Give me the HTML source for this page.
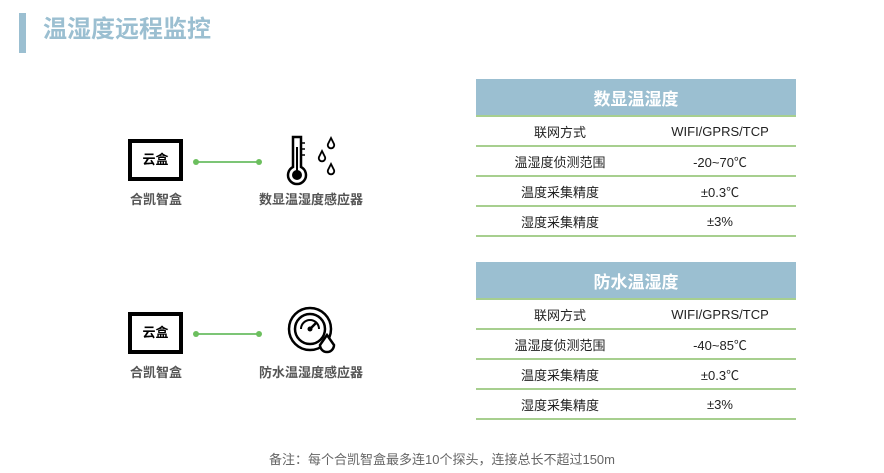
<!DOCTYPE html>
<html><head><meta charset="utf-8"><style>
body{margin:0;width:884px;height:473px;background:#fff;position:relative;overflow:hidden;font-family:"Liberation Sans","Noto Sans CJK SC",sans-serif;}
.a{position:absolute;}
.bar{left:19px;top:13px;width:7px;height:40px;background:#9bbfd1;}
.title{left:43px;top:15px;font-size:24px;font-weight:bold;color:#9bbfd1;line-height:30px;}
.box{width:47px;height:34px;border:4px solid #000;text-align:center;line-height:34px;font-size:13px;font-weight:bold;color:#000;}
.lbl{font-size:13px;font-weight:bold;color:#555;text-align:center;width:140px;}
.line{height:2px;background:#7cc576;}
.dot{width:6px;height:6px;border-radius:3px;background:#6cbf5e;}
table{position:absolute;left:476px;width:320px;border-collapse:collapse;font-size:13px;color:#222;}
th{background:#9bbfd1;color:#fff;font-size:17px;height:36px;border-bottom:2px solid #a7cf8f;padding:0;}
td{height:28px;border-bottom:2px solid #a7cf8f;text-align:center;padding:0;}
td:first-child{width:168px;}
.foot{left:0;width:884px;top:449px;text-align:center;font-size:13px;color:#666;}
</style></head><body>
<div class="a bar"></div>
<div class="a title">温湿度远程监控</div>

<div class="a box" style="left:128px;top:139px;">云盒</div>
<div class="a lbl" style="left:86px;top:189px;">合凯智盒</div>
<div class="a line" style="left:196px;top:161px;width:63px;"></div>
<div class="a dot" style="left:193px;top:159px;"></div>
<div class="a dot" style="left:256px;top:159px;"></div>
<svg class="a" style="left:284px;top:135px" width="60" height="52" viewBox="0 0 60 52">
<path d="M9 2 h8 v30 a9 9 0 1 1 -8 0 z" fill="none" stroke="#000" stroke-width="2.5"/>
<circle cx="13" cy="40" r="5" fill="#000"/><line x1="13" y1="12" x2="13" y2="36" stroke="#000" stroke-width="2"/>
<line x1="17" y1="8" x2="21" y2="8" stroke="#000" stroke-width="1.5"/><line x1="17" y1="14" x2="21" y2="14" stroke="#000" stroke-width="1.5"/><line x1="17" y1="20" x2="21" y2="20" stroke="#000" stroke-width="1.5"/>
<path d="M47 3 l-3 6 a3.2 3.2 0 1 0 6 0 z" fill="none" stroke="#000" stroke-width="1.8"/>
<path d="M38 16 l-3 6 a3.2 3.2 0 1 0 6 0 z" fill="none" stroke="#000" stroke-width="1.8"/>
<path d="M47 29 l-3 6 a3.2 3.2 0 1 0 6 0 z" fill="none" stroke="#000" stroke-width="1.8"/>
</svg>
<div class="a lbl" style="left:241px;top:189px;">数显温湿度感应器</div>

<div class="a box" style="left:128px;top:312px;">云盒</div>
<div class="a lbl" style="left:86px;top:362px;">合凯智盒</div>
<div class="a line" style="left:196px;top:333px;width:63px;"></div>
<div class="a dot" style="left:193px;top:331px;"></div>
<div class="a dot" style="left:256px;top:331px;"></div>
<svg class="a" style="left:286px;top:305px" width="52" height="52" viewBox="0 0 52 52">
<circle cx="24" cy="24" r="21" fill="none" stroke="#000" stroke-width="2.5"/>
<circle cx="24" cy="24" r="15" fill="none" stroke="#000" stroke-width="2.5"/>
<path d="M15 24 a9 9 0 0 1 18 0" fill="none" stroke="#000" stroke-width="2"/>
<line x1="24" y1="24" x2="31" y2="17" stroke="#000" stroke-width="2.5"/><circle cx="24" cy="24" r="2.5" fill="#000"/>
<path d="M41 30 l-7 10 a7 7 0 1 0 14 0 z" fill="#fff" stroke="#000" stroke-width="2.5"/>
</svg>
<div class="a lbl" style="left:241px;top:362px;">防水温湿度感应器</div>

<table style="top:79px"><tr><th colspan="2">数显温湿度</th></tr>
<tr><td>联网方式</td><td>WIFI/GPRS/TCP</td></tr>
<tr><td>温湿度侦测范围</td><td>-20~70℃</td></tr>
<tr><td>温度采集精度</td><td>±0.3℃</td></tr>
<tr><td>湿度采集精度</td><td>±3%</td></tr></table>

<table style="top:262px"><tr><th colspan="2">防水温湿度</th></tr>
<tr><td>联网方式</td><td>WIFI/GPRS/TCP</td></tr>
<tr><td>温湿度侦测范围</td><td>-40~85℃</td></tr>
<tr><td>温度采集精度</td><td>±0.3℃</td></tr>
<tr><td>湿度采集精度</td><td>±3%</td></tr></table>

<div class="a foot">备注：每个合凯智盒最多连10个探头，连接总长不超过150m</div>
</body></html>
